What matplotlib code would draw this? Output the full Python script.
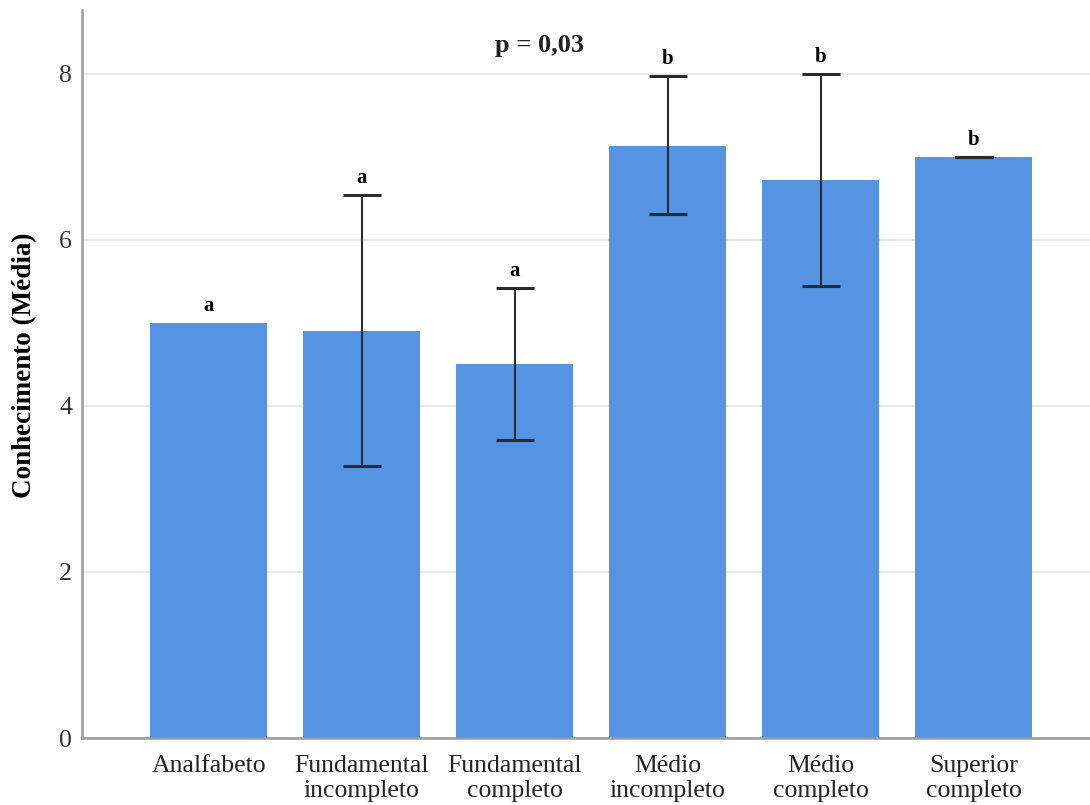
import matplotlib
matplotlib.use("Agg")
import matplotlib.pyplot as plt

# escolaridade x conhecimento médio, com intervalo (barras de erro)
categorias = ["Analfabeto", "Fundamental\nincompleto", "Fundamental\ncompleto",
              "Médio\nincompleto", "Médio\ncompleto", "Superior\ncompleto"]
medias = [5.00, 4.90, 4.51, 7.13, 6.72, 7.00]
# Analfabeto sem intervalo (n = 1)
limite_inf = [None, 3.28, 3.59, 6.31, 5.45, 7.00]
limite_sup = [None, 6.54, 5.42, 7.97, 8.00, 7.00]
grupos = ["a", "a", "a", "b", "b", "b"]
p_texto = "p = 0,03"

BAR = "#5594E3"; INK = "#2B2B2B"; GRID = "#EAEAEA"; SPINE = "#9A9A9A"

plt.rcParams.update({"font.family": "Liberation Serif"})

fig = plt.figure(figsize=(10.9, 8.05), dpi=100)
ax = fig.add_axes([0.0752, 0.0832, 0.9248, 0.9044])

x = list(range(len(categorias)))
ax.bar(x, medias, width=0.765, color=BAR, zorder=2)

idx = [i for i in x if limite_inf[i] is not None]
err_lo = [medias[i] - limite_inf[i] for i in idx]
err_hi = [limite_sup[i] - medias[i] for i in idx]
ax.errorbar(idx, [medias[i] for i in idx], yerr=[err_lo, err_hi], fmt="none",
            ecolor=INK, elinewidth=1.5, capsize=13.5, capthick=2.2, zorder=3)

for i, g in zip(x, grupos):
    top = limite_sup[i] if limite_sup[i] is not None else medias[i]
    ax.annotate(g, (i, top), xytext=(0, 5), textcoords="offset points",
                ha="center", va="bottom", fontsize=15, fontweight="bold", color="black")

ax.text(2.16, 8.34, p_texto, ha="center", va="center", fontsize=19,
        fontweight="bold", color="#222222")

ax.set_xlim(-0.83, 5.76)
ax.set_ylim(0, 8.77)
ax.set_yticks([0, 2, 4, 6, 8])
ax.set_xticks(x)
ax.set_xticklabels(categorias, fontsize=18.5, color="#222222", linespacing=1.2)
ax.tick_params(axis="y", labelsize=18.5, labelcolor="#333333", length=0, pad=7)
ax.tick_params(axis="x", length=0, pad=12)
ax.set_ylabel("Conhecimento (Média)", fontsize=19.5, fontweight="bold")
ax.yaxis.set_label_coords(-0.044, 0.512)

ax.grid(axis="y", color=GRID, lw=1.5, zorder=0)
ax.set_axisbelow(True)
for s in ("top", "right"):
    ax.spines[s].set_visible(False)
for s in ("left", "bottom"):
    ax.spines[s].set_color(SPINE)
    ax.spines[s].set_linewidth(1.8)

fig.savefig("out.png", facecolor="white")
